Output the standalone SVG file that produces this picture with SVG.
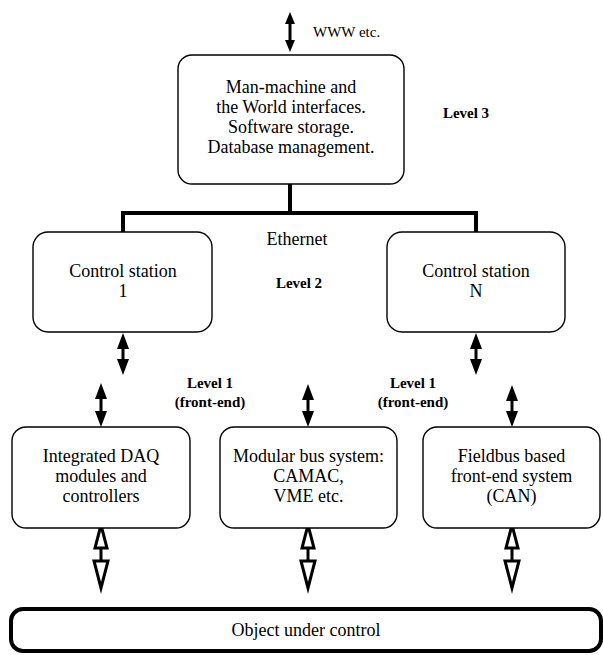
<svg xmlns="http://www.w3.org/2000/svg" width="603" height="655" viewBox="0 0 603 655">
<style>
.box{fill:#fff;stroke:#000;stroke-width:1.4}
.big{fill:#fff;stroke:#000;stroke-width:4}
text{font-family:'Liberation Serif','Times New Roman',Times,'DejaVu Serif',serif;fill:#000}
.t{font-size:18px;text-anchor:middle}
.lv{font-size:15px;font-weight:bold;text-anchor:middle}
.sm{font-size:15px}
.bus{fill:none;stroke:#000;stroke-width:4}
.shaft{stroke:#000;stroke-width:3}
.head{fill:#000}
.hol{fill:#fff;stroke:#000;stroke-width:3;stroke-linejoin:miter}
</style>
<g id="connectors">
  <polyline class="bus" points="290,184 290,213"/>
  <polyline class="bus" points="123,232 123,213 476,213 476,232"/>
  <g id="arrow-www">
    <line class="shaft" x1="290" y1="22" x2="290" y2="42" stroke-width="2"/>
    <polygon class="head" points="290,12 285,24 295,24"/>
    <polygon class="head" points="290,52 285,40 295,40"/>
  </g>
  <g id="arrow-c1">
    <line class="shaft" x1="123" y1="345" x2="123" y2="363"/>
    <polygon class="head" points="123,333 117,349 129,349"/>
    <polygon class="head" points="123,375 117,359 129,359"/>
  </g>
  <g id="arrow-cn">
    <line class="shaft" x1="476" y1="345" x2="476" y2="363"/>
    <polygon class="head" points="476,333 470,349 482,349"/>
    <polygon class="head" points="476,375 470,359 482,359"/>
  </g>
  <g id="arrow-daq">
    <line class="shaft" x1="101" y1="395" x2="101" y2="415"/>
    <polygon class="head" points="101,383 95,399 107,399"/>
    <polygon class="head" points="101,427 95,411 107,411"/>
  </g>
  <g id="arrow-mod">
    <line class="shaft" x1="308" y1="396" x2="308" y2="415"/>
    <polygon class="head" points="308,384 302,400 314,400"/>
    <polygon class="head" points="308,427 302,411 314,411"/>
  </g>
  <g id="arrow-fb">
    <line class="shaft" x1="512" y1="397" x2="512" y2="415"/>
    <polygon class="head" points="512,385 506,401 518,401"/>
    <polygon class="head" points="512,427 506,411 518,411"/>
  </g>
  <g id="hollow-daq">
    <line class="shaft" x1="101" y1="548" x2="101" y2="561"/>
    <polygon class="hol" points="101,525 95,548 107,548"/>
    <polygon class="hol" points="101,588 94,561 108,561"/>
  </g>
  <g id="hollow-mod">
    <line class="shaft" x1="308" y1="548" x2="308" y2="561"/>
    <polygon class="hol" points="308,525 302,548 314,548"/>
    <polygon class="hol" points="308,588 301,561 315,561"/>
  </g>
  <g id="hollow-fb">
    <line class="shaft" x1="512" y1="548" x2="512" y2="561"/>
    <polygon class="hol" points="512,525 506,548 518,548"/>
    <polygon class="hol" points="512,588 505,561 519,561"/>
  </g>
</g>
<g id="node-top">
  <rect class="box" x="178" y="55" width="226" height="129" rx="14"/>
  <text class="t" x="291" y="93">Man-machine and</text>
  <text class="t" x="291" y="113">the World interfaces.</text>
  <text class="t" x="291" y="133">Software storage.</text>
  <text class="t" x="291" y="153">Database management.</text>
</g>
<g id="node-c1">
  <rect class="box" x="33" y="232" width="179" height="100" rx="15"/>
  <text class="t" x="123" y="277">Control station</text>
  <text class="t" x="123" y="297">1</text>
</g>
<g id="node-cn">
  <rect class="box" x="387" y="232" width="178" height="100" rx="15"/>
  <text class="t" x="476" y="277">Control station</text>
  <text class="t" x="476" y="297">N</text>
</g>
<g id="node-daq">
  <rect class="box" x="12" y="427" width="178" height="101" rx="14"/>
  <text class="t" x="101" y="462">Integrated DAQ</text>
  <text class="t" x="101" y="482">modules and</text>
  <text class="t" x="101" y="502">controllers</text>
</g>
<g id="node-mod">
  <rect class="box" x="220" y="427" width="177" height="101" rx="14"/>
  <text class="t" x="308.5" y="462">Modular bus system:</text>
  <text class="t" x="308.5" y="482">CAMAC,</text>
  <text class="t" x="308.5" y="502">VME etc.</text>
</g>
<g id="node-fb">
  <rect class="box" x="423" y="427" width="177" height="101" rx="14"/>
  <text class="t" x="511.5" y="462">Fieldbus based</text>
  <text class="t" x="511.5" y="482">front-end system</text>
  <text class="t" x="511.5" y="502">(CAN)</text>
</g>
<g id="node-object">
  <rect class="big" x="11" y="609" width="590" height="42" rx="12"/>
  <text class="t" x="306" y="636">Object under control</text>
</g>
<g id="labels">
  <text class="sm" x="313" y="37">WWW etc.</text>
  <text class="lv" x="466" y="118">Level 3</text>
  <text class="t" x="297" y="245">Ethernet</text>
  <text class="lv" x="299" y="288">Level 2</text>
  <text class="lv" x="210" y="388">Level 1</text>
  <text class="lv" x="210" y="407">(front-end)</text>
  <text class="lv" x="413" y="388">Level 1</text>
  <text class="lv" x="413" y="407">(front-end)</text>
</g>
</svg>
